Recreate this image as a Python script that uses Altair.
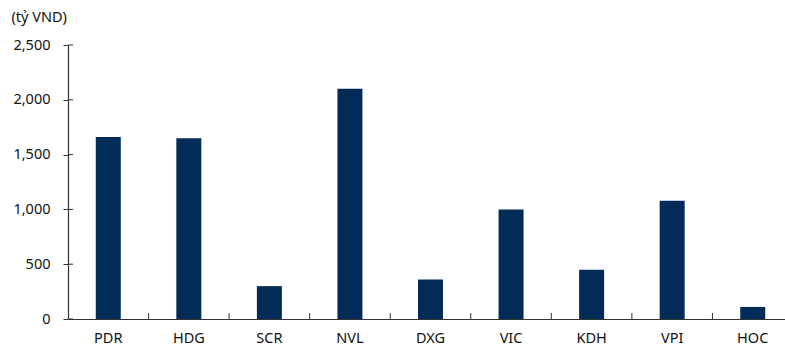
import altair as alt
import pandas as pd

categories = ["PDR", "HDG", "SCR", "NVL", "DXG", "VIC", "KDH", "VPI", "HOC"]
values = [1660, 1650, 300, 2100, 360, 1000, 450, 1080, 110]
y_ticks = [0, 500, 1000, 1500, 2000, 2500]

df = pd.DataFrame({"cat": categories, "val": values})
tick_df = pd.DataFrame({"t": y_ticks})

FONT = "Noto Sans"
FS = 14.5
W, H = 717, 274

xscale = alt.Scale(domain=categories, range=[0, 725], paddingInner=0, paddingOuter=0)
yscale = alt.Scale(domain=[0, 2500], nice=False)

bars = alt.Chart(df).mark_bar(size=25, color="#022c57").encode(
    x=alt.X("cat:N", scale=xscale, sort=categories,
            axis=alt.Axis(title=None, labelAngle=0, ticks=False, labelPadding=12,
                          labelFont=FONT, labelFontSize=FS, labelColor="#111111",
                          domainColor="#333333", domainWidth=1.2)),
    y=alt.Y("val:Q", scale=yscale,
            axis=alt.Axis(values=y_ticks, format=",.0f", grid=False, tickSize=5,
                          tickColor="#333333", domainColor="#333333", domainWidth=1.2,
                          labelPadding=13, labelFont=FONT, labelFontSize=FS,
                          labelColor="#111111",
                          title="(tỷ VND)", titleAngle=0, titleAlign="left",
                          titleBaseline="middle", titleX=-57, titleY=-28,
                          titleFont=FONT, titleFontSize=FS, titleFontWeight="normal",
                          titleColor="#111111")),
)

ytick_inner = alt.Chart(tick_df).mark_rule(color="#333333", strokeWidth=1).encode(
    x=alt.value(0), x2=alt.value(5),
    y=alt.Y("t:Q", scale=yscale, axis=alt.Axis(format=",.0f")),
)

xtick_df = pd.DataFrame({"cat": categories[1:]})
xticks = alt.Chart(xtick_df).mark_rule(color="#333333", strokeWidth=1).encode(
    x=alt.X("cat:N", scale=xscale, bandPosition=0, sort=categories),
    y=alt.value(H - 6), y2=alt.value(H),
)

chart = alt.layer(bars, ytick_inner, xticks).properties(
    width=W, height=H,
    autosize=alt.AutoSizeParams(type="none"),
    padding={"left": 68, "top": 45, "right": 0, "bottom": 26},
    background="white",
).configure_view(stroke=None)

chart.save("out.html", embed_options={"renderer": "svg", "actions": False})
